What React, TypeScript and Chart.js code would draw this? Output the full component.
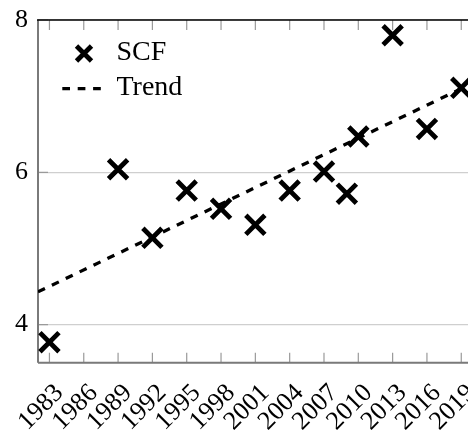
import React, { useEffect, useRef } from 'react';
import { Chart, registerables } from 'chart.js';

Chart.register(...registerables);

// ---- data ----
const surveyYears = [1983, 1989, 1992, 1995, 1998, 2001, 2004, 2007, 2009, 2010, 2013, 2016, 2019];
const scfValues = [3.77, 6.04, 5.14, 5.76, 5.52, 5.31, 5.76, 6.01, 5.72, 6.47, 7.8, 6.57, 7.11];
const trendYears = [1982, 2020];
const trendValues = [4.43, 7.17];
const xTickYears = [1983, 1986, 1989, 1992, 1995, 1998, 2001, 2004, 2007, 2010, 2013, 2016, 2019];
const yTickValues = [4, 6, 8];
const seriesLabels = ['SCF', 'Trend'];

const FONT = '"Liberation Serif", "Times New Roman", serif';

export default function App() {
  const ref = useRef<HTMLCanvasElement>(null);

  useEffect(() => {
    if (!ref.current) return;

    const framePlugin = {
      id: 'frame',
      beforeDatasetsDraw(chart: any) {
        const { ctx, chartArea: a, scales } = chart;
        const xs = scales.x;
        const ys = scales.y;
        ctx.save();
        ctx.strokeStyle = '#9a9a9a';
        ctx.lineWidth = 1.2;
        ctx.beginPath();
        for (const t of xTickYears) {
          const px = xs.getPixelForValue(t);
          ctx.moveTo(px, a.top);
          ctx.lineTo(px, a.top + 10);
          ctx.moveTo(px, a.bottom);
          ctx.lineTo(px, a.bottom - 10);
        }
        for (const v of yTickValues) {
          const py = ys.getPixelForValue(v);
          ctx.moveTo(a.left, py);
          ctx.lineTo(a.left + 10, py);
        }
        ctx.stroke();
        ctx.strokeStyle = '#7a7a7a';
        ctx.lineWidth = 2;
        ctx.beginPath();
        ctx.moveTo(a.left, a.top);
        ctx.lineTo(a.left, a.bottom);
        ctx.moveTo(a.left, a.bottom);
        ctx.lineTo(a.right, a.bottom);
        ctx.stroke();
        ctx.strokeStyle = '#000';
        ctx.lineWidth = 1.5;
        ctx.beginPath();
        ctx.moveTo(a.left - 1, a.top);
        ctx.lineTo(a.right, a.top);
        ctx.stroke();
        ctx.restore();
      },
    };

    const legendPlugin = {
      id: 'innerLegend',
      afterDatasetsDraw(chart: any) {
        const { ctx } = chart;
        ctx.save();
        ctx.strokeStyle = '#000';
        ctx.lineWidth = 4.8;
        const cx = 84, cy = 53.5, d = 7.5;
        ctx.beginPath();
        ctx.moveTo(cx - d, cy - d);
        ctx.lineTo(cx + d, cy + d);
        ctx.moveTo(cx - d, cy + d);
        ctx.lineTo(cx + d, cy - d);
        ctx.stroke();
        ctx.lineWidth = 3.3;
        ctx.setLineDash([7.7, 7.7]);
        ctx.beginPath();
        ctx.moveTo(62.3, 88.7);
        ctx.lineTo(102, 88.7);
        ctx.stroke();
        ctx.setLineDash([]);
        ctx.fillStyle = '#000';
        ctx.font = `28px ${FONT}`;
        ctx.textAlign = 'left';
        ctx.textBaseline = 'alphabetic';
        ctx.fillText(seriesLabels[0], 116.5, 60);
        ctx.fillText(seriesLabels[1], 116.5, 95);
        ctx.restore();
      },
    };

    const chart = new Chart(ref.current, {
      type: 'scatter',
      data: {
        datasets: [
          {
            label: seriesLabels[0],
            data: surveyYears.map((x, i) => ({ x, y: scfValues[i] })),
            pointStyle: 'crossRot',
            pointRadius: 13.5,
            pointBorderWidth: 4.8,
            borderColor: '#000',
            backgroundColor: '#000',
            showLine: false,
          },
          {
            label: seriesLabels[1],
            data: trendYears.map((x, i) => ({ x, y: trendValues[i] })),
            showLine: true,
            borderColor: '#000',
            borderWidth: 3.3,
            borderDash: [7.7, 7.7],
            pointRadius: 0,
            fill: false,
          },
        ],
      },
      options: {
        responsive: false,
        animation: false,
        events: [],
        layout: { padding: { top: 20, right: 0, left: 0, bottom: 0 } },
        plugins: { legend: { display: false }, tooltip: { enabled: false } },
        scales: {
          x: {
            type: 'linear',
            min: 1982,
            max: 2020,
            afterBuildTicks: (scale: any) => {
              scale.ticks = xTickYears.map((v) => ({ value: v }));
            },
            afterFit: (scale: any) => {
              scale.height = 69.3;
              scale.paddingLeft = 0;
              scale.paddingRight = 0;
            },
            grid: { display: false, drawTicks: false, tickLength: 0 },
            border: { display: false },
            ticks: {
              autoSkip: false,
              minRotation: 45,
              maxRotation: 45,
              padding: 19,
              labelOffset: 10,
              color: '#000',
              font: { family: FONT, size: 26, lineHeight: 0.8 },
              callback: (v: any) => String(v),
            },
          },
          y: {
            type: 'linear',
            min: 3.5,
            max: 8,
            afterBuildTicks: (scale: any) => {
              scale.ticks = yTickValues.map((v) => ({ value: v }));
            },
            afterFit: (scale: any) => {
              scale.width = 38;
              scale.paddingTop = 0;
              scale.paddingBottom = 0;
            },
            grid: { color: '#cfcfcf', lineWidth: 1.2, drawTicks: false },
            border: { display: false },
            ticks: {
              padding: 10,
              color: '#000',
              font: { family: FONT, size: 26 },
              callback: (v: any) => String(v),
            },
          },
        },
      },
      plugins: [framePlugin, legendPlugin],
    } as any);

    return () => chart.destroy();
  }, []);

  return (
    <div
      style={{
        position: 'fixed',
        left: 0,
        top: 0,
        width: 468,
        height: 432,
        overflow: 'hidden',
        background: '#fff',
      }}
    >
      <canvas ref={ref} width={491} height={432} style={{ display: 'block' }} />
    </div>
  );
}
